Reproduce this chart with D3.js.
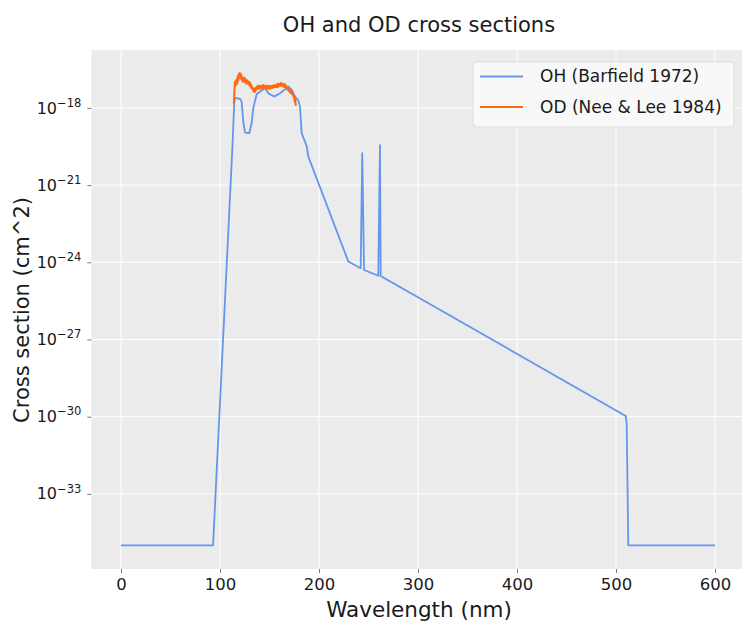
<!DOCTYPE html>
<html>
<head>
<meta charset="utf-8">
<script src="https://cdn.jsdelivr.net/npm/d3@7"></script>
<style>
  html, body { margin: 0; padding: 0; background: #ffffff; }
  svg { display: block; }
  svg text { font-family: "DejaVu Sans", sans-serif; font-weight: 400; fill: #1a1a1a; }
</style>
</head>
<body>
<svg id="chart" width="742" height="625"></svg>
<script>
// OH photoabsorption cross section (Barfield 1972), wavelength in nm, cross section in cm^2
const ohWavelength = [0, 93, 112.4, 114.4, 115.2, 120.2, 121.9, 123.5, 125.3, 129.6, 132.0, 133.6,
  137.1, 140.4, 145.5, 148.8, 154.5, 160.6, 167.4, 169.0, 172.4, 175.8, 179.1, 180.8, 182.5,
  187.6, 189.2, 229.6, 242.1, 243.7, 245.5, 259.9, 261.6, 262.3, 509.8, 510.8, 512.4, 600];
const ohCross = [1e-35, 1e-35, 2.3e-20, 1.55e-18, 2.45e-18, 2.24e-18, 1.74e-18, 2.95e-19, 1.1e-19,
  1.05e-19, 2.57e-19, 9.8e-19, 3.47e-18, 4.27e-18, 5.9e-18, 3.7e-18, 2.75e-18, 3.7e-18, 5.9e-18,
  6.8e-18, 5.0e-18, 2.75e-18, 1.95e-18, 1.12e-18, 1.05e-19, 3.2e-20, 1.29e-20, 1.07e-24, 5.9e-25,
  1.74e-20, 5.0e-25, 3.0e-25, 3.6e-20, 2.95e-25, 1.07e-30, 5.6e-31, 1e-35, 1e-35];

// OD photoabsorption cross section (Nee & Lee 1984)
const odWavelength = [114.0, 114.5, 115.0, 115.5, 116.0, 116.5, 117.0, 117.5, 118.0, 118.5, 119.0,
  119.5, 120.0, 120.5, 121.0, 121.5, 122.0, 122.5, 123.0, 123.5, 124.0, 124.5, 125.0, 125.5, 126.0,
  126.5, 127.0, 127.5, 128.0, 128.5, 129.0, 129.5, 130.0, 130.5, 131.0, 131.5, 132.0, 132.5, 133.0,
  133.5, 134.0, 134.5, 135.0, 135.5, 136.0, 136.5, 137.0, 137.5, 138.0, 138.5, 139.0, 139.5, 140.0,
  140.5, 141.0, 141.5, 142.0, 142.5, 143.0, 143.5, 144.0, 144.5, 145.0, 145.5, 146.0, 146.5, 147.0,
  147.5, 148.0, 148.5, 149.0, 149.5, 150.0, 150.5, 151.0, 151.5, 152.0, 152.5, 153.0, 153.5, 154.0,
  154.5, 155.0, 155.5, 156.0, 156.5, 157.0, 157.5, 158.0, 158.5, 159.0, 159.5, 160.0, 160.5, 161.0,
  161.5, 162.0, 162.5, 163.0, 163.5, 164.0, 164.5, 165.0, 165.5, 166.0, 166.5, 167.0, 167.5, 168.0,
  168.5, 169.0, 169.5, 170.0, 170.5, 171.0, 171.5, 172.0, 172.5, 173.0, 173.5, 174.0, 174.5, 175.0,
  175.5, 176.0, 176.5];
const odCross = [1.43e-18, 4.2e-18, 1.02e-17, 7.2e-18, 1.12e-17, 7.8e-18, 1.34e-17, 9.4e-18, 1.75e-17,
  1.22e-17, 2.09e-17, 1.47e-17, 2.29e-17, 1.60e-17, 2.09e-17, 1.34e-17, 1.75e-17, 1.12e-17, 1.47e-17,
  1.02e-17, 1.34e-17, 1.12e-17, 1.47e-17, 1.02e-17, 1.22e-17, 8.6e-18, 1.22e-17, 9.4e-18, 1.12e-17,
  8.6e-18, 1.02e-17, 7.8e-18, 1.02e-17, 7.2e-18, 8.6e-18, 6.0e-18, 7.2e-18, 5.5e-18, 6.0e-18, 4.6e-18,
  5.5e-18, 4.2e-18, 5.0e-18, 4.2e-18, 6.0e-18, 5.0e-18, 6.5e-18, 5.5e-18, 7.2e-18, 5.5e-18, 6.5e-18,
  5.5e-18, 7.2e-18, 6.0e-18, 7.2e-18, 5.5e-18, 6.5e-18, 6.0e-18, 7.2e-18, 6.0e-18, 7.8e-18, 6.0e-18,
  7.2e-18, 6.0e-18, 6.5e-18, 5.5e-18, 7.2e-18, 6.0e-18, 6.5e-18, 5.5e-18, 7.2e-18, 6.0e-18, 6.5e-18,
  5.5e-18, 7.2e-18, 6.0e-18, 6.5e-18, 6.0e-18, 7.2e-18, 6.0e-18, 7.2e-18, 6.5e-18, 7.8e-18, 6.5e-18,
  7.2e-18, 6.5e-18, 7.8e-18, 6.5e-18, 8.6e-18, 6.5e-18, 7.8e-18, 7.2e-18, 8.6e-18, 7.2e-18, 8.6e-18,
  7.2e-18, 9.4e-18, 7.2e-18, 8.6e-18, 7.2e-18, 7.8e-18, 6.5e-18, 8.6e-18, 6.5e-18, 7.8e-18, 6.0e-18,
  7.2e-18, 5.5e-18, 6.5e-18, 5.0e-18, 6.0e-18, 4.6e-18, 5.5e-18, 4.2e-18, 5.0e-18, 3.8e-18, 4.6e-18,
  3.5e-18, 4.2e-18, 3.2e-18, 3.5e-18, 2.45e-18, 2.9e-18, 1.71e-18, 2.24e-18, 1.20e-18];

const xTicks = [0, 100, 200, 300, 400, 500, 600];
const yTickExponents = [-18, -21, -24, -27, -30, -33];

const seriesNames = ["OH (Barfield 1972)", "OD (Nee & Lee 1984)"];
const seriesColors = ["#6495ed", "#ff6a10"];

const svg = d3.select("#chart");
const panel = { left: 91.3, right: 744.7, top: 50, bottom: 569 };

const x = d3.scaleLinear().domain([-30, 630]).range([panel.left, panel.right]);
const y = d3.scaleLog().domain([Math.pow(10, -35.92), Math.pow(10, -15.75)]).range([panel.bottom, panel.top]);

// panel background
svg.append("rect")
  .attr("x", panel.left).attr("y", panel.top)
  .attr("width", panel.right - panel.left).attr("height", panel.bottom - panel.top)
  .attr("fill", "#ebebeb");

svg.append("clipPath").attr("id", "clip")
  .append("rect")
  .attr("x", panel.left).attr("y", panel.top)
  .attr("width", panel.right - panel.left).attr("height", panel.bottom - panel.top);

// grid
const grid = svg.append("g").attr("stroke", "#ffffff").attr("stroke-width", 1);
grid.selectAll("line.gx").data(xTicks).join("line")
  .attr("x1", d => x(d)).attr("x2", d => x(d))
  .attr("y1", panel.top).attr("y2", panel.bottom);
grid.selectAll("line.gy").data(yTickExponents).join("line")
  .attr("x1", panel.left).attr("x2", panel.right)
  .attr("y1", d => y(Math.pow(10, d))).attr("y2", d => y(Math.pow(10, d)));

// axes
const xAxis = d3.axisBottom(x).tickValues(xTicks).tickSize(4).tickPadding(5).tickFormat(d3.format("d"));
const gx = svg.append("g").attr("transform", `translate(0,${panel.bottom})`).call(xAxis);
gx.select(".domain").remove();
gx.selectAll(".tick line").attr("stroke", "#555").attr("stroke-width", 0.8);
gx.selectAll(".tick text").attr("font-size", 16.5);

const yAxis = d3.axisLeft(y).tickValues(yTickExponents.map(e => Math.pow(10, e))).tickSize(4).tickFormat("");
const gy = svg.append("g").attr("transform", `translate(${panel.left},0)`).call(yAxis);
gy.select(".domain").remove();
gy.selectAll(".tick line").attr("stroke", "#555").attr("stroke-width", 0.8);
gy.selectAll(".tick").each(function(d) {
  const e = Math.round(Math.log10(d));
  const t = d3.select(this).append("text")
    .attr("x", -10).attr("dy", "0.32em")
    .attr("text-anchor", "end")
    .attr("font-size", 16);
  t.append("tspan").text("10");
  t.append("tspan").attr("font-size", 11.5).attr("dy", "-0.6em").text("\u2212" + Math.abs(e));
});

// series
const line = d3.line().x(d => x(d[0])).y(d => y(d[1]));
const plot = svg.append("g").attr("clip-path", "url(#clip)");
plot.append("path")
  .datum(d3.zip(ohWavelength, ohCross))
  .attr("fill", "none").attr("stroke", seriesColors[0]).attr("stroke-width", 1.8)
  .attr("stroke-linejoin", "round")
  .attr("d", line);
plot.append("path")
  .datum(d3.zip(odWavelength, odCross))
  .attr("fill", "none").attr("stroke", seriesColors[1]).attr("stroke-width", 2)
  .attr("stroke-linejoin", "round")
  .attr("d", line);

// title and axis labels
svg.append("text").attr("x", 419).attr("y", 32).attr("text-anchor", "middle")
  .attr("font-size", 21).text("OH and OD cross sections");
svg.append("text").attr("x", 419).attr("y", 617).attr("text-anchor", "middle")
  .attr("font-size", 21.5).text("Wavelength (nm)");
svg.append("text").attr("transform", "translate(29,310) rotate(-90)").attr("text-anchor", "middle")
  .attr("font-size", 21).text("Cross section (cm^2)");

// legend
const lg = svg.append("g");
lg.append("rect").attr("x", 473).attr("y", 62).attr("width", 261).attr("height", 65)
  .attr("rx", 4).attr("fill", "#f8f8f8").attr("stroke", "#dddddd").attr("stroke-width", 1);
seriesNames.forEach((name, i) => {
  const yy = 76.5 + i * 30.5;
  lg.append("line").attr("x1", 480).attr("x2", 523).attr("y1", yy).attr("y2", yy)
    .attr("stroke", seriesColors[i]).attr("stroke-width", 1.8);
  lg.append("text").attr("x", 540).attr("y", yy).attr("dy", "0.35em")
    .attr("font-size", 17).text(name);
});
</script>
</body>
</html>
